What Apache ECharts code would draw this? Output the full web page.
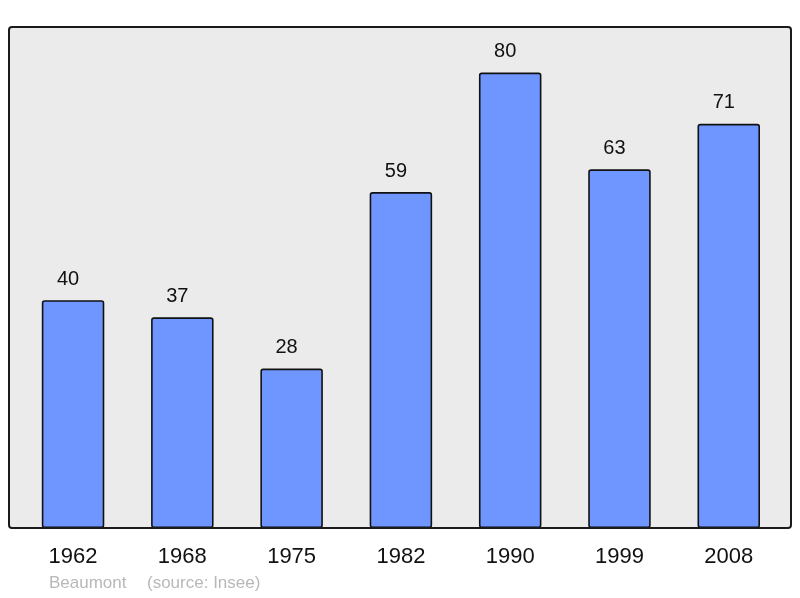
<!DOCTYPE html>
<html>
<head>
<meta charset="utf-8">
<script src="https://cdn.jsdelivr.net/npm/echarts@6/dist/echarts.min.js"></script>
<style>
  html, body { margin: 0; padding: 0; background: #fff; }
  #chart { width: 800px; height: 598px; }
</style>
</head>
<body>
<div id="chart"></div>
<script>
const years = ['1962', '1968', '1975', '1982', '1990', '1999', '2008']
const population = [40, 37, 28, 59, 80, 63, 71]
const yMax = 88

const chart = echarts.init(document.getElementById('chart'))

chart.setOption({
  animation: false,
  backgroundColor: '#ffffff',
  textStyle: { fontFamily: 'Liberation Sans, Arial, sans-serif' },
  graphic: [
    {
      type: 'rect',
      z: -10,
      shape: { x: 9, y: 27, width: 782, height: 501, r: 3 },
      style: { fill: '#ebebeb', stroke: 'transparent' }
    },
    {
      type: 'rect',
      z: 100,
      shape: { x: 9, y: 27, width: 782, height: 501, r: 3 },
      style: { fill: 'none', stroke: '#1a1a1a', lineWidth: 2 }
    },
    {
      type: 'text',
      left: 49,
      top: 575,
      style: { text: 'Beaumont', fill: '#b8b8b8', fontSize: 17, fontFamily: 'Liberation Sans, Arial, sans-serif' }
    },
    {
      type: 'text',
      left: 147,
      top: 575,
      style: { text: '(source: Insee)', fill: '#b8b8b8', fontSize: 17, fontFamily: 'Liberation Sans, Arial, sans-serif' }
    }
  ],
  grid: { left: 18.4, right: 16.6, top: 27, bottom: 70, containLabel: false },
  xAxis: {
    type: 'category',
    data: years,
    axisLine: { show: false },
    axisTick: { show: false },
    axisLabel: { color: '#111', fontSize: 22, margin: 18 }
  },
  yAxis: {
    type: 'value',
    min: 0,
    max: yMax,
    show: false,
    splitLine: { show: false }
  },
  series: [{
    type: 'bar',
    data: population,
    barWidth: 62.5,
    itemStyle: { color: '#6f96ff', borderColor: '#111', borderWidth: 1.6, borderRadius: 2 },
    label: { show: true, position: 'top', distance: 11, offset: [-5, 0], color: '#111', fontSize: 20 }
  }]
})
</script>
</body>
</html>
